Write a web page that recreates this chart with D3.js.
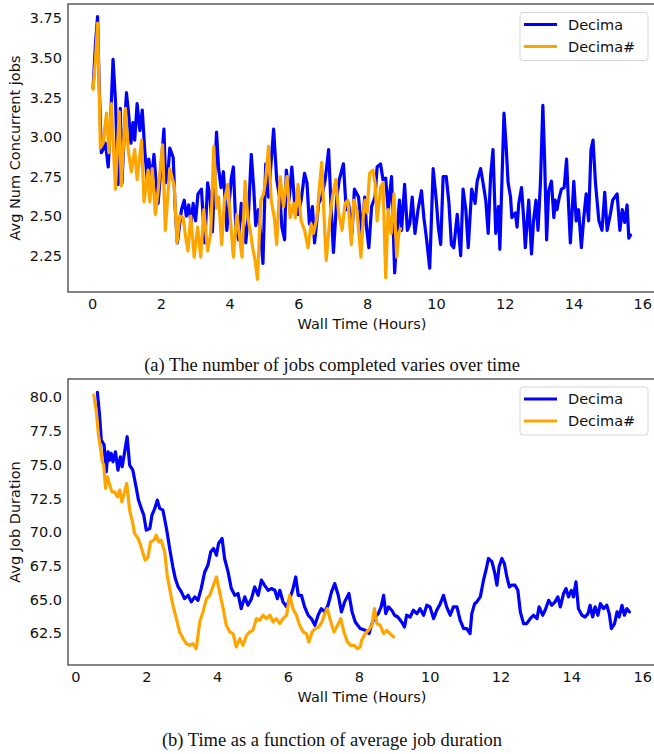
<!DOCTYPE html>
<html>
<head>
<meta charset="utf-8">
<script src="https://cdn.jsdelivr.net/npm/d3@7"></script>
<style>
	body { margin: 0; background: #fff; }
	svg { display: block; }
	.tick text { font-family: "DejaVu Sans", sans-serif; font-size: 14.5px; fill: #111; }
	.label { font-family: "DejaVu Sans", sans-serif; font-size: 14.5px; fill: #111; }
	.caption { font-family: "Liberation Serif", "Times New Roman", serif; font-size: 18.5px; fill: #111; }
</style>
</head>
<body>
<div id="chart"></div>
<script>
var seriesNames = ['Decima', 'Decima#'];
var seriesColors = ['#0000ff', '#ffa500'];
var xTicks = [0, 2, 4, 6, 8, 10, 12, 14, 16];
var jobsTicks = [2.25, 2.5, 2.75, 3.0, 3.25, 3.5, 3.75];
var durationTicks = [62.5, 65.0, 67.5, 70.0, 72.5, 75.0, 77.5, 80.0];

// [hours, avg concurrent jobs]
var decimaJobs = [
	[0.03,3.31],[0.10,3.59],[0.16,3.76],[0.20,3.38],[0.27,2.90],[0.32,2.92],[0.39,2.96],[0.47,2.81],
	[0.54,3.11],[0.61,3.49],[0.68,3.23],[0.76,2.70],[0.82,3.18],[0.87,2.71],[0.93,3.00],[1.00,3.28],
	[1.07,3.13],[1.13,2.96],[1.19,3.09],[1.24,2.98],[1.31,3.21],[1.39,3.04],[1.46,3.17],[1.53,2.92],
	[1.61,2.71],[1.65,2.86],[1.73,2.73],[1.80,2.89],[1.87,2.69],[1.92,2.58],[2.02,2.85],[2.09,3.05],
	[2.14,2.71],[2.20,2.75],[2.26,2.93],[2.36,2.87],[2.41,2.58],[2.48,2.33],[2.60,2.54],[2.68,2.60],
	[2.74,2.50],[2.81,2.57],[2.88,2.45],[2.94,2.58],[3.01,2.47],[3.08,2.64],[3.18,2.67],[3.28,2.33],
	[3.36,2.71],[3.43,2.62],[3.50,2.40],[3.62,3.03],[3.68,2.80],[3.75,2.68],[3.82,2.78],[3.92,2.41],
	[4.05,2.74],[4.11,2.81],[4.18,2.43],[4.26,2.35],[4.34,2.58],[4.47,2.33],[4.55,2.52],[4.63,2.89],
	[4.70,2.68],[4.76,2.44],[4.84,2.54],[4.97,2.20],[5.05,2.83],[5.13,2.62],[5.28,3.05],[5.37,2.73],
	[5.47,2.60],[5.52,2.43],[5.60,2.35],[5.65,2.79],[5.73,2.60],[5.81,2.81],[5.89,2.58],[5.99,2.51],
	[6.08,2.60],[6.18,2.77],[6.25,2.71],[6.32,2.45],[6.41,2.56],[6.47,2.33],[6.59,2.58],[6.68,2.62],
	[6.78,2.73],[6.88,2.92],[6.95,2.56],[7.02,2.27],[7.12,2.62],[7.19,2.73],[7.31,2.83],[7.39,2.54],
	[7.46,2.58],[7.56,2.39],[7.63,2.67],[7.75,2.62],[7.85,2.39],[7.93,2.62],[7.98,2.43],[8.05,2.30],
	[8.13,2.56],[8.23,2.62],[8.29,2.81],[8.39,2.83],[8.46,2.73],[8.54,2.74],[8.61,2.54],[8.71,2.75],
	[8.80,2.14],[8.88,2.43],[8.94,2.60],[9.00,2.41],[9.09,2.70],[9.17,2.41],[9.24,2.45],[9.31,2.62],
	[9.39,2.39],[9.48,2.54],[9.58,2.66],[9.65,2.49],[9.73,2.35],[9.82,2.17],[9.92,2.80],[10.01,2.60],
	[10.07,2.43],[10.14,2.32],[10.21,2.75],[10.30,2.75],[10.38,2.58],[10.45,2.32],[10.52,2.30],[10.62,2.51],
	[10.72,2.25],[10.79,2.67],[10.87,2.54],[10.94,2.30],[11.04,2.67],[11.14,2.58],[11.20,2.72],[11.30,2.80],
	[11.37,2.71],[11.45,2.60],[11.52,2.39],[11.59,2.75],[11.66,2.92],[11.74,2.39],[11.82,2.56],[11.86,2.29],
	[11.98,3.15],[12.04,2.95],[12.10,2.71],[12.17,2.62],[12.21,2.49],[12.31,2.52],[12.36,2.43],[12.41,2.58],
	[12.49,2.68],[12.55,2.49],[12.60,2.30],[12.70,2.60],[12.78,2.26],[12.84,2.47],[12.91,2.60],[12.97,2.41],
	[13.04,2.71],[13.11,3.20],[13.16,2.87],[13.22,2.35],[13.28,2.66],[13.36,2.72],[13.43,2.49],[13.47,2.60],
	[13.52,2.54],[13.59,2.62],[13.65,2.67],[13.73,2.68],[13.80,2.86],[13.86,2.56],[13.91,2.33],[14.01,2.72],
	[14.08,2.47],[14.15,2.54],[14.23,2.30],[14.30,2.49],[14.37,2.64],[14.44,2.47],[14.51,2.92],[14.57,2.98],
	[14.64,2.71],[14.74,2.47],[14.83,2.41],[14.91,2.65],[14.98,2.41],[15.08,2.52],[15.14,2.60],[15.27,2.64],
	[15.35,2.41],[15.42,2.54],[15.49,2.46],[15.56,2.57],[15.61,2.36],[15.66,2.38]
];

var decimaSharpJobs = [
	[0.03,3.30],[0.10,3.49],[0.16,3.72],[0.22,3.17],[0.24,2.93],[0.32,2.96],[0.42,3.15],[0.49,2.90],
	[0.56,3.21],[0.68,2.67],[0.79,3.16],[0.85,2.69],[0.97,3.18],[1.05,2.92],[1.14,2.78],[1.24,2.92],
	[1.31,2.73],[1.44,2.98],[1.51,2.59],[1.63,2.79],[1.68,2.59],[1.75,2.80],[1.84,2.51],[1.92,2.66],
	[2.05,2.95],[2.13,2.41],[2.26,2.80],[2.39,2.69],[2.47,2.33],[2.55,2.50],[2.65,2.49],[2.72,2.37],
	[2.79,2.28],[2.87,2.50],[2.97,2.24],[3.07,2.43],[3.16,2.24],[3.25,2.54],[3.36,2.28],[3.45,2.39],
	[3.54,2.94],[3.62,2.55],[3.68,2.62],[3.77,2.32],[3.85,2.60],[3.95,2.70],[4.02,2.49],[4.11,2.24],
	[4.21,2.51],[4.28,2.39],[4.36,2.24],[4.45,2.72],[4.53,2.49],[4.60,2.41],[4.67,2.30],[4.74,2.22],
	[4.81,2.10],[4.91,2.60],[4.99,2.64],[5.05,2.73],[5.13,2.94],[5.21,2.60],[5.30,2.49],[5.37,2.32],
	[5.47,2.75],[5.57,2.56],[5.67,2.75],[5.76,2.49],[5.86,2.58],[5.91,2.49],[5.99,2.70],[6.08,2.47],
	[6.18,2.41],[6.28,2.30],[6.37,2.45],[6.44,2.39],[6.54,2.49],[6.61,2.68],[6.68,2.84],[6.76,2.43],
	[6.81,2.22],[6.91,2.47],[6.99,2.62],[7.09,2.73],[7.17,2.52],[7.27,2.41],[7.36,2.58],[7.44,2.60],
	[7.54,2.32],[7.61,2.60],[7.70,2.54],[7.82,2.24],[7.90,2.54],[7.94,2.60],[8.00,2.52],[8.07,2.77],
	[8.17,2.79],[8.23,2.71],[8.29,2.47],[8.39,2.68],[8.46,2.71],[8.54,2.11],[8.61,2.54],[8.70,2.39],
	[8.78,2.64],[8.86,2.24],[8.92,2.39],[8.97,2.42]
];

// [hours, avg job duration]
var decimaDuration = [
	[0.62,80.37],[0.68,78.69],[0.73,76.83],[0.81,76.46],[0.87,74.48],[0.92,75.96],[0.97,75.35],[1.01,75.84],
	[1.06,75.22],[1.13,75.96],[1.20,74.60],[1.27,75.59],[1.32,74.85],[1.39,75.96],[1.46,77.08],[1.53,74.97],
	[1.62,74.60],[1.72,73.24],[1.78,72.38],[1.86,71.76],[1.93,71.26],[2.00,70.15],[2.10,70.27],[2.16,71.26],
	[2.24,71.76],[2.31,72.38],[2.38,71.76],[2.47,71.63],[2.57,70.27],[2.66,68.79],[2.75,67.43],[2.82,66.56],
	[2.90,65.94],[2.99,65.57],[3.08,65.07],[3.18,65.32],[3.27,64.83],[3.37,65.20],[3.46,64.95],[3.55,65.82],
	[3.65,67.05],[3.74,67.55],[3.82,68.54],[3.90,68.79],[3.98,68.29],[4.04,69.16],[4.14,69.53],[4.21,68.05],
	[4.31,67.05],[4.40,65.82],[4.50,65.32],[4.59,65.45],[4.68,64.33],[4.78,65.20],[4.87,64.58],[4.97,65.07],
	[5.06,65.94],[5.16,65.32],[5.25,66.44],[5.34,66.06],[5.44,65.69],[5.53,65.82],[5.63,65.69],[5.70,65.07],
	[5.77,65.69],[5.86,64.83],[5.96,64.46],[6.05,65.07],[6.13,65.69],[6.22,66.68],[6.29,65.32],[6.38,65.32],
	[6.47,64.46],[6.57,63.84],[6.66,63.59],[6.76,63.09],[6.85,63.84],[6.94,64.33],[7.04,64.09],[7.13,64.58],
	[7.23,65.57],[7.32,66.19],[7.42,65.32],[7.51,64.09],[7.60,64.83],[7.72,65.45],[7.81,64.09],[7.90,63.34],
	[8.04,62.85],[8.18,62.72],[8.29,62.48],[8.37,63.22],[8.46,63.71],[8.55,63.96],[8.63,64.46],[8.70,65.32],
	[8.76,63.96],[8.84,64.46],[8.93,64.21],[9.01,63.84],[9.10,63.71],[9.21,63.34],[9.29,62.97],[9.35,63.84],
	[9.45,63.71],[9.54,64.21],[9.64,63.96],[9.73,64.33],[9.83,63.84],[9.92,64.58],[10.01,64.46],[10.11,63.59],
	[10.20,64.21],[10.30,64.70],[10.39,65.32],[10.48,64.46],[10.58,63.84],[10.67,64.46],[10.77,64.46],[10.86,63.47],
	[10.96,62.85],[11.05,62.85],[11.14,62.48],[11.19,63.96],[11.27,64.70],[11.33,64.83],[11.43,65.20],[11.52,66.44],
	[11.59,67.18],[11.66,68.05],[11.76,67.80],[11.83,67.06],[11.90,66.07],[11.96,67.43],[12.04,68.05],[12.11,67.67],
	[12.18,66.68],[12.25,65.94],[12.32,66.07],[12.41,66.07],[12.49,65.69],[12.56,64.09],[12.65,63.22],[12.74,63.22],
	[12.84,63.59],[12.93,63.84],[13.03,63.59],[13.09,64.46],[13.19,63.84],[13.26,64.21],[13.36,64.95],[13.45,64.58],
	[13.54,64.83],[13.62,65.20],[13.69,64.46],[13.78,65.45],[13.85,65.82],[13.92,65.20],[14.00,65.69],[14.06,65.20],
	[14.13,66.31],[14.20,64.33],[14.30,63.84],[14.39,63.71],[14.47,63.96],[14.53,64.58],[14.60,63.71],[14.67,64.46],
	[14.75,63.84],[14.82,64.70],[14.91,64.33],[15.00,64.58],[15.07,63.96],[15.13,62.85],[15.22,63.22],[15.29,64.09],
	[15.35,63.71],[15.43,64.58],[15.50,63.84],[15.57,64.33],[15.64,64.09]
];

var decimaSharpDuration = [
	[0.52,80.17],[0.59,78.93],[0.65,77.20],[0.71,76.21],[0.76,75.22],[0.80,74.97],[0.85,73.24],[0.90,74.11],
	[0.97,73.49],[1.03,72.99],[1.11,72.99],[1.18,72.62],[1.25,73.12],[1.31,72.25],[1.39,72.99],[1.45,73.61],
	[1.53,71.63],[1.61,70.77],[1.67,69.90],[1.77,69.53],[1.84,69.04],[1.91,68.42],[1.97,67.92],[2.05,68.17],
	[2.12,69.28],[2.22,69.41],[2.28,69.78],[2.35,69.28],[2.42,69.41],[2.52,68.54],[2.59,66.81],[2.66,65.82],
	[2.75,64.58],[2.85,63.59],[2.94,62.60],[3.04,62.11],[3.13,61.74],[3.22,61.61],[3.32,61.74],[3.41,61.36],
	[3.51,63.34],[3.60,64.09],[3.70,65.07],[3.79,65.32],[3.88,65.94],[3.98,66.68],[4.07,65.57],[4.17,64.33],
	[4.26,63.09],[4.36,62.60],[4.45,62.48],[4.54,61.49],[4.64,62.11],[4.73,61.61],[4.83,62.35],[4.92,62.60],
	[5.01,62.72],[5.11,63.59],[5.20,63.47],[5.30,63.84],[5.39,63.59],[5.49,63.84],[5.58,63.34],[5.67,63.59],
	[5.77,63.22],[5.86,63.59],[5.96,63.84],[6.05,65.32],[6.14,64.33],[6.24,63.84],[6.33,63.09],[6.43,62.60],
	[6.52,62.48],[6.59,61.86],[6.68,62.60],[6.77,62.85],[6.87,62.97],[6.96,63.34],[7.04,63.96],[7.11,64.33],
	[7.21,63.34],[7.30,62.60],[7.40,63.09],[7.49,63.59],[7.58,62.60],[7.68,61.86],[7.77,61.61],[7.87,61.61],
	[7.96,61.36],[8.04,61.50],[8.08,61.98],[8.18,62.48],[8.27,62.72],[8.37,63.10],[8.44,64.33],[8.51,63.22],
	[8.60,63.10],[8.70,62.48],[8.79,62.72],[8.88,62.48],[8.98,62.23]
];

var width = 654, height = 754;

var svg = d3.select('#chart').append('svg')
	.attr('width', width)
	.attr('height', height);

function panel(opts) {
	var x = d3.scaleLinear().domain(opts.xDomain).range([opts.left, opts.right]);
	var y = d3.scaleLinear().domain(opts.yDomain).range([opts.bottom, opts.top]);
	var g = svg.append('g');

	g.append('defs').append('clipPath')
		.attr('id', opts.id + '-clip')
		.append('rect')
		.attr('x', opts.left).attr('y', opts.top)
		.attr('width', opts.right - opts.left).attr('height', opts.bottom - opts.top);

	// axes, no tick marks
	var yAxis = g.append('g')
		.attr('transform', 'translate(' + opts.left + ',0)')
		.call(d3.axisLeft(y).tickValues(opts.yTicks).tickSize(0).tickPadding(6).tickFormat(d3.format(opts.yFormat)));
	yAxis.select('.domain').remove();

	var xAxis = g.append('g')
		.attr('transform', 'translate(0,' + opts.bottom + ')')
		.call(d3.axisBottom(x).tickValues(xTicks).tickSize(0).tickPadding(7).tickFormat(d3.format('d')));
	xAxis.select('.domain').remove();

	// lines
	var line = d3.line()
		.x(function(d) { return x(d[0]); })
		.y(function(d) { return y(d[1]); });

	var lines = g.append('g').attr('clip-path', 'url(#' + opts.id + '-clip)');
	opts.series.forEach(function(s, i) {
		lines.append('path')
			.datum(s)
			.attr('d', line)
			.attr('fill', 'none')
			.attr('stroke', seriesColors[i])
			.attr('stroke-width', 3.2)
			.attr('stroke-linejoin', 'round')
			.attr('stroke-linecap', 'round');
	});

	// frame
	g.append('rect')
		.attr('x', opts.left).attr('y', opts.top)
		.attr('width', opts.right - opts.left).attr('height', opts.bottom - opts.top)
		.attr('fill', 'none')
		.attr('stroke', '#444')
		.attr('stroke-width', 1.3);

	// labels
	g.append('text')
		.attr('class', 'label')
		.attr('x', (opts.left + 656) / 2)
		.attr('y', opts.bottom + 37)
		.attr('text-anchor', 'middle')
		.text('Wall Time (Hours)');

	g.append('text')
		.attr('class', 'label')
		.attr('transform', 'translate(20,' + ((opts.top + opts.bottom) / 2) + ') rotate(-90)')
		.attr('text-anchor', 'middle')
		.text(opts.yLabel);

	// legend
	var lg = g.append('g').attr('transform', 'translate(520,' + opts.legendTop + ')');
	lg.append('rect')
		.attr('width', 128).attr('height', 48)
		.attr('rx', 3)
		.attr('fill', '#fff').attr('fill-opacity', 0.8)
		.attr('stroke', '#d6d6d6');
	seriesNames.forEach(function(name, i) {
		var yy = 12 + i * 22;
		lg.append('line')
			.attr('x1', 4).attr('x2', 37)
			.attr('y1', yy).attr('y2', yy)
			.attr('stroke', seriesColors[i])
			.attr('stroke-width', 3);
		lg.append('text')
			.attr('class', 'label')
			.attr('x', 48).attr('y', yy + 5)
			.text(name);
	});

	svg.append('text')
		.attr('class', 'caption')
		.attr('x', 332)
		.attr('y', opts.captionY)
		.attr('text-anchor', 'middle')
		.text(opts.caption);
}

panel({
	id: 'jobs',
	left: 68, right: 657, top: 4, bottom: 292,
	xDomain: [-0.7, 16.43],
	yDomain: [2.02, 3.84],
	yTicks: jobsTicks,
	yFormat: '.2f',
	yLabel: 'Avg Num Concurrent jobs',
	series: [decimaJobs, decimaSharpJobs],
	legendTop: 12.5,
	caption: '(a) The number of jobs completed varies over time',
	captionY: 371
});

panel({
	id: 'duration',
	left: 68, right: 656, top: 379, bottom: 665,
	xDomain: [-0.21, 16.39],
	yDomain: [60.15, 81.36],
	yTicks: durationTicks,
	yFormat: '.1f',
	yLabel: 'Avg Job Duration',
	series: [decimaDuration, decimaSharpDuration],
	legendTop: 387,
	caption: '(b) Time as a function of average job duration',
	captionY: 746
});
</script>
</body>
</html>
